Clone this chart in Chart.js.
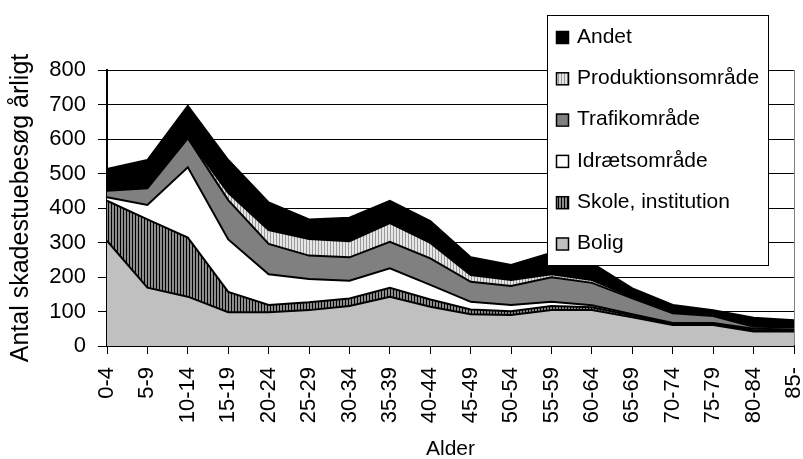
<!DOCTYPE html>
<html>
<head>
<meta charset="utf-8">
<script src="https://cdn.jsdelivr.net/npm/chart.js@4/dist/chart.umd.min.js"></script>
<style>
html, body { margin: 0; padding: 0; background: #fff; }
</style>
</head>
<body>
<canvas id="skadeChart" width="803" height="459"></canvas>
<script>
// age groups along the x-axis
var ages = ["0-4","5-9","10-14","15-19","20-24","25-29","30-34","35-39","40-44",
            "45-49","50-54","55-59","60-64","65-69","70-74","75-79","80-84","85-"];
// visits per year by place (stacked, bottom to top)
var bolig      = [305,169,143, 98, 98,104,116,143,114, 92, 90,104,104, 83, 61, 61, 42, 42];
var skole      = [116,198,171, 59, 21, 23, 22, 26, 21, 14, 11, 12,  8,  5,  3,  3,  4,  3];
var idraet     = [ 10, 42,204,152, 89, 67, 51, 56, 42, 22, 18, 12,  6,  4,  3,  3,  4,  3];
var trafik     = [ 19, 48, 84,114, 88, 68, 68, 77, 77, 58, 55, 71, 65, 46, 28, 20,  6,  6];
var produktion = [  2,  2,  2, 21, 40, 48, 47, 54, 45, 20, 17,  9,  8,  4,  2,  3,  4,  3];
var andet      = [ 61, 80, 92, 95, 80, 57, 68, 65, 63, 51, 44, 62, 49, 25, 22, 14, 22, 18];
var yTicks = [0,100,200,300,400,500,600,700,800];

var FONT = "'Liberation Sans', Arial, sans-serif";

function stripes(line, base) {
  var c = document.createElement("canvas");
  c.width = 3; c.height = 1;
  var g = c.getContext("2d");
  g.fillStyle = base; g.fillRect(0, 0, 3, 1);
  g.fillStyle = line; g.fillRect(0, 0, 1, 1);
  return g.createPattern(c, "repeat");
}

function area(label, data, fill, first) {
  return {
    label: label,
    data: data,
    backgroundColor: fill,
    borderColor: "#000",
    borderWidth: 2,
    pointRadius: 0,
    tension: 0,
    fill: first ? "origin" : "-1"
  };
}

// legend box drawn over the plot, like the original
var boxLegend = {
  id: "boxLegend",
  afterDraw: function (chart) {
    var ctx = chart.ctx;
    var sets = chart.data.datasets.slice().reverse();
    ctx.save();
    ctx.fillStyle = "#fff";
    ctx.fillRect(547, 15, 221, 250);
    ctx.strokeStyle = "#000";
    ctx.lineWidth = 1;
    ctx.strokeRect(547.5, 15.5, 221, 250);
    ctx.font = "21px " + FONT;
    ctx.textBaseline = "middle";
    sets.forEach(function (ds, i) {
      var y = 37 + i * 41.3;
      ctx.fillStyle = ds.backgroundColor;
      ctx.fillRect(556, y - 6, 12, 12);
      ctx.lineWidth = 1.5;
      ctx.strokeRect(556.5, y - 5.5, 12, 12);
      ctx.fillStyle = "#000";
      ctx.fillText(ds.label, 577, y);
    });
    ctx.restore();
  }
};

new Chart(document.getElementById("skadeChart"), {
  type: "line",
  data: {
    labels: ages,
    datasets: [
      area("Bolig", bolig, "#c0c0c0", true),
      area("Skole, institution", skole, stripes("#000", "#8c8c8c")),
      area("Idrætsområde", idraet, "#fff"),
      area("Trafikområde", trafik, "#808080"),
      area("Produktionsområde", produktion, stripes("#9a9a9a", "#e6e6e6")),
      area("Andet", andet, "#000")
    ]
  },
  options: {
    responsive: false,
    animation: false,
    devicePixelRatio: 1,
    layout: { padding: { top: 70, right: 9, left: 0, bottom: 0 } },
    plugins: { legend: { display: false }, tooltip: { enabled: false } },
    scales: {
      x: {
        type: "category",
        offset: false,
        ticks: {
          autoSkip: false, minRotation: 90, maxRotation: 90,
          color: "#000", padding: 13, font: { family: FONT, size: 22 }
        },
        grid: {
          drawOnChartArea: true,
          color: function (c) { return c.index === ages.length - 1 ? "#808080" : "rgba(0,0,0,0)"; },
          tickColor: "#000",
          tickLength: 8
        },
        border: { color: "#000", width: 2 },
        title: {
          display: true, text: "Alder", color: "#000",
          font: { family: FONT, size: 21 }, padding: { top: 0, bottom: -3 }
        },
        afterFit: function (s) { s.height = 113; s.paddingLeft = 0; s.paddingRight = 0; }
      },
      y: {
        stacked: true,
        min: 0,
        max: 800,
        afterBuildTicks: function (s) { s.ticks = yTicks.map(function (v) { return { value: v }; }); },
        ticks: { color: "#000", padding: 12, font: { family: FONT, size: 22 } },
        grid: { color: "#000", lineWidth: 1, tickLength: 9 },
        border: { color: "#000", width: 2 },
        title: {
          display: true, text: "Antal skadestuebesøg årligt", color: "#000",
          font: { family: FONT, size: 25 }, padding: { top: 6, bottom: 0 }
        },
        afterFit: function (s) { s.width = 107; s.paddingTop = 0; s.paddingBottom = 0; }
      }
    }
  },
  plugins: [boxLegend]
});
</script>
</body>
</html>
